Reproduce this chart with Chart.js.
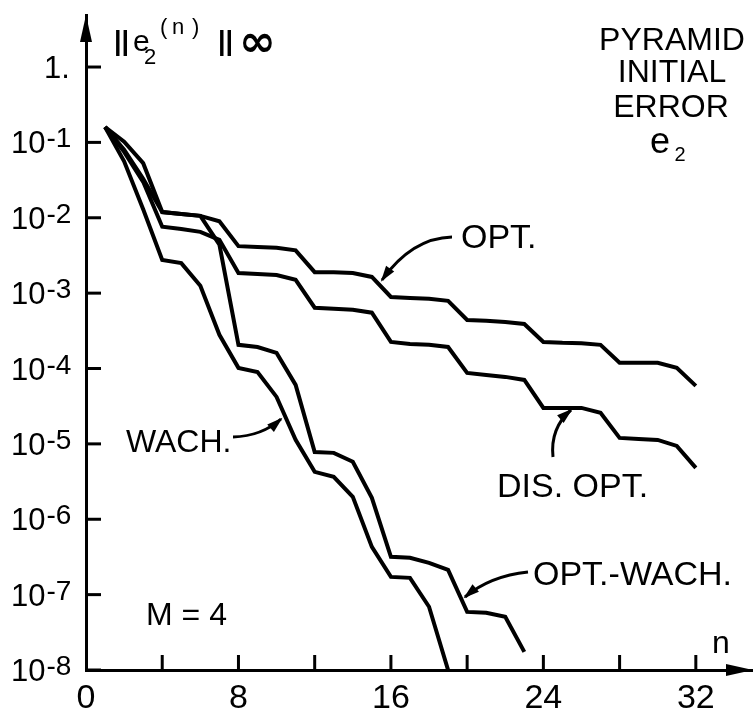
<!DOCTYPE html>
<html>
<head>
<meta charset="utf-8">
<script src="https://cdn.jsdelivr.net/npm/chart.js@4.4.0/dist/chart.umd.min.js"></script>
<style>
  html, body { margin: 0; padding: 0; background: #fff; }
  #wrap { width: 753px; height: 710px; }
</style>
</head>
<body>
<div id="wrap"><canvas id="chart" width="753" height="710"></canvas></div>
<script>
// iteration number n
const steps = [1, 2, 3, 4, 5, 6, 7, 8, 9, 10, 11, 12, 13, 14, 15, 16,
  17, 18, 19, 20, 21, 22, 23, 24, 25, 26, 27, 28, 29, 30, 31, 32];

// ||e2(n)||inf
const optValues = [0.16, 0.102, 0.053, 0.0119, 0.0112, 0.0106, 0.009, 0.0042,
  0.0041, 0.004, 0.0037, 0.0019, 0.0019, 0.00185, 0.00164, 0.00089,
  0.00086, 0.00084, 0.00079, 0.00044, 0.00043, 0.000415, 0.00039, 0.000225,
  0.000219, 0.000216, 0.000206, 0.000119, 0.000119, 0.000119, 0.000102, 0.0000588];
const disOptValues = [0.16, 0.075, 0.03, 0.0076, 0.0071, 0.0065, 0.0051, 0.00185,
  0.0018, 0.00174, 0.0015, 0.00064, 0.00062, 0.0006, 0.00055, 0.000225,
  0.000212, 0.000206, 0.000193, 0.0000875, 0.0000823, 0.0000774, 0.0000706, 0.00003,
  0.00003, 0.00003, 0.0000258, 0.000012, 0.0000116, 0.0000113, 0.0000094, 0.0000048];
const wachValues = [0.16, 0.056, 0.013, 0.00275, 0.0025, 0.00125, 0.00028, 0.000102,
  0.00009, 0.000042, 0.0000113, 0.00000425, 0.00000365, 0.00000198, 4.3e-7, 1.72e-7,
  1.67e-7, 6.9e-8, 1.0e-8];
const optWachValues = [0.16, 0.08, 0.033, 0.0119, 0.0112, 0.0106, 0.0044, 0.000206,
  0.000193, 0.000161, 0.0000606, 7.8e-6, 7.6e-6, 5.8e-6, 1.92e-6, 3.17e-7,
  3.08e-7, 2.64e-7, 2.13e-7, 5.9e-8, 5.74e-8, 5.08e-8, 1.74e-8];

const xTickLabels = [0, 8, 16, 24, 32];
const xTickMarks = [4, 8, 12, 16, 20, 24, 28, 32];
const yTickValues = [1, 1e-1, 1e-2, 1e-3, 1e-4, 1e-5, 1e-6, 1e-7, 1e-8];
const yTickLabels = ['1.', '-1', '-2', '-3', '-4', '-5', '-6', '-7', '-8'];

const FONT = "'Liberation Sans', Arial, sans-serif";

function toPoints(vals) {
  return vals.map((v, i) => ({ x: steps[i], y: v }));
}

function arrow(ctx, x0, y0, cx, cy, x1, y1) {
  ctx.beginPath();
  ctx.moveTo(x0, y0);
  ctx.quadraticCurveTo(cx, cy, x1, y1);
  ctx.stroke();
  const a = Math.atan2(y1 - cy, x1 - cx);
  const L = 14, W = 5;
  ctx.beginPath();
  ctx.moveTo(x1 + 2 * Math.cos(a), y1 + 2 * Math.sin(a));
  ctx.lineTo(x1 - L * Math.cos(a) + W * Math.sin(a), y1 - L * Math.sin(a) - W * Math.cos(a));
  ctx.lineTo(x1 - L * Math.cos(a) - W * Math.sin(a), y1 - L * Math.sin(a) + W * Math.cos(a));
  ctx.closePath();
  ctx.fill();
}

const decor = {
  id: 'decor',
  afterDraw(chart) {
    const ctx = chart.ctx;
    const xs = chart.scales.x, ys = chart.scales.y;
    const area = chart.chartArea;
    ctx.save();
    ctx.fillStyle = '#000';
    ctx.strokeStyle = '#000';
    ctx.lineWidth = 3;

    // axis arrow heads
    ctx.beginPath();
    ctx.moveTo(area.left, area.top);
    ctx.lineTo(area.left - 6, area.top + 27);
    ctx.lineTo(area.left + 6, area.top + 27);
    ctx.closePath();
    ctx.fill();
    ctx.beginPath();
    ctx.moveTo(area.right, area.bottom);
    ctx.lineTo(area.right - 27, area.bottom - 6);
    ctx.lineTo(area.right - 27, area.bottom + 6);
    ctx.closePath();
    ctx.fill();

    // inward tick marks
    yTickValues.forEach(v => {
      const py = ys.getPixelForValue(v);
      ctx.beginPath();
      ctx.moveTo(area.left, py);
      ctx.lineTo(area.left + 15, py);
      ctx.stroke();
    });
    xTickMarks.forEach(v => {
      const px = xs.getPixelForValue(v);
      ctx.beginPath();
      ctx.moveTo(px, area.bottom);
      ctx.lineTo(px, area.bottom - 15);
      ctx.stroke();
    });

    // y tick labels with exponents
    ctx.textBaseline = 'alphabetic';
    ctx.textAlign = 'left';
    yTickValues.forEach((v, i) => {
      const py = ys.getPixelForValue(v);
      if (i === 0) {
        ctx.font = '31px ' + FONT;
        ctx.fillText('1.', 44, py + 11);
        return;
      }
      ctx.font = '31px ' + FONT;
      ctx.fillText('10', 11, py + 11);
      const w = ctx.measureText('10').width;
      ctx.font = '28px ' + FONT;
      ctx.fillText(yTickLabels[i], 11 + w + 1, py + 5);
    });

    // axis title ||e2(n)||inf
    ctx.font = 'bold 27px ' + FONT;
    ctx.fillText('||', 114, 50);
    ctx.font = '30px ' + FONT;
    ctx.fillText('e', 133, 51);
    ctx.font = '22px ' + FONT;
    ctx.fillText('2', 144, 64);
    ctx.font = '22px ' + FONT;
    ctx.fillText('(', 160, 34);
    ctx.fillText('n', 172, 34);
    ctx.fillText(')', 192, 34);
    ctx.font = 'bold 27px ' + FONT;
    ctx.fillText('||', 218, 50);
    ctx.font = "bold 44px 'DejaVu Sans', sans-serif";
    ctx.fillText('\u221E', 239, 56);

    // block of text top right
    ctx.textAlign = 'center';
    ctx.font = '32px ' + FONT;
    ctx.fillText('PYRAMID', 672, 50);
    ctx.fillText('INITIAL', 672, 82);
    ctx.fillText('ERROR', 671, 117);
    ctx.font = '36px ' + FONT;
    ctx.fillText('e', 660, 153);
    ctx.font = '20px ' + FONT;
    ctx.fillText('2', 680, 161);

    // series labels
    ctx.textAlign = 'left';
    ctx.font = '34px ' + FONT;
    ctx.fillText('OPT.', 461, 248);
    ctx.fillText('DIS. OPT.', 497, 497);
    ctx.fillText('OPT.-WACH.', 533, 585);
    ctx.font = '32px ' + FONT;
    ctx.fillText('WACH.', 126, 452);
    ctx.fillText('M = 4', 146, 625);
    ctx.fillText('n', 712, 653);

    // pointer arrows
    ctx.lineWidth = 3;
    arrow(ctx, 452, 237, 412, 238, 382, 280);
    arrow(ctx, 553, 457, 550, 428, 571, 410);
    arrow(ctx, 233, 437, 262, 436, 281, 419);
    arrow(ctx, 528, 572, 490, 576, 465, 597);

    ctx.restore();
  }
};

const lineStyle = {
  borderColor: '#000',
  borderWidth: 4,
  pointRadius: 0,
  tension: 0,
  fill: false,
  borderJoinStyle: 'miter'
};

new Chart(document.getElementById('chart'), {
  type: 'line',
  data: {
    datasets: [
      Object.assign({ label: 'OPT.', data: toPoints(optValues) }, lineStyle),
      Object.assign({ label: 'DIS. OPT.', data: toPoints(disOptValues) }, lineStyle),
      Object.assign({ label: 'WACH.', data: toPoints(wachValues) }, lineStyle),
      Object.assign({ label: 'OPT.-WACH.', data: toPoints(optWachValues) }, lineStyle)
    ]
  },
  options: {
    responsive: false,
    animation: false,
    devicePixelRatio: 1,
    layout: { padding: { top: 15, right: 0, left: 0, bottom: 0 } },
    plugins: {
      legend: { display: false },
      tooltip: { enabled: false }
    },
    scales: {
      x: {
        type: 'linear',
        min: 0,
        max: 35,
        afterBuildTicks: s => { s.ticks = xTickLabels.map(v => ({ value: v })); },
        afterFit: s => { s.height = 40; },
        ticks: {
          color: '#000',
          padding: 8,
          font: { size: 34, family: FONT }
        },
        grid: { drawOnChartArea: false, drawTicks: false },
        border: { color: '#000', width: 3 }
      },
      y: {
        type: 'logarithmic',
        min: 1e-8,
        max: 4.9,
        afterBuildTicks: s => { s.ticks = yTickValues.map(v => ({ value: v })); },
        afterFit: s => { s.width = 86; },
        ticks: { display: false },
        grid: { drawOnChartArea: false, drawTicks: false },
        border: { color: '#000', width: 3 }
      }
    }
  },
  plugins: [decor]
});
</script>
</body>
</html>
